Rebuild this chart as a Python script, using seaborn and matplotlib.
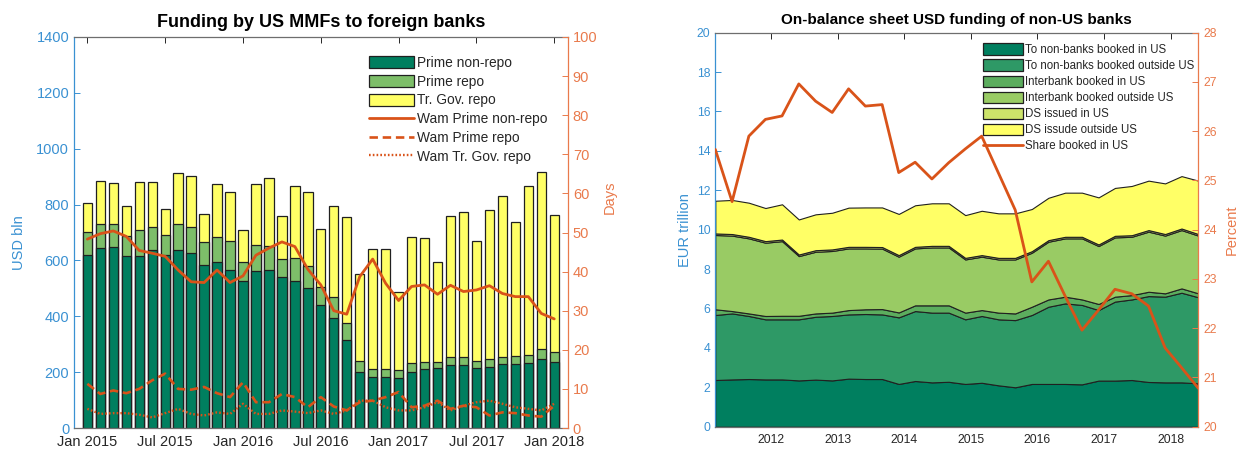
import numpy as np
import pandas as pd
import matplotlib
matplotlib.use("Agg")
import matplotlib.pyplot as plt
import matplotlib.dates as mdates
from matplotlib.patches import Patch
from matplotlib.lines import Line2D
import seaborn as sns

# ---------------- data: US MMF funding to foreign banks (USD bln, monthly) ----------------
month_labels = ["Jan 2015", "Jul 2015", "Jan 2016", "Jul 2016",
                "Jan 2017", "Jul 2017", "Jan 2018"]
prime_nonrepo = [618, 643, 647, 615, 615, 636, 618, 636, 628, 582, 593, 567, 525,
                 562, 567, 541, 525, 501, 442, 393, 315, 201, 184, 184, 180, 201,
                 211, 216, 224, 224, 216, 219, 229, 229, 234, 248, 236]
prime_repo = [83, 87, 83, 74, 94, 82, 73, 94, 93, 83, 91, 101, 68, 93, 86, 65, 85,
              78, 62, 75, 61, 40, 28, 28, 27, 33, 25, 20, 30, 30, 25, 27, 25, 29,
              28, 35, 37]
trgov_repo = [103, 155, 147, 106, 173, 164, 92, 184, 181, 103, 188, 177, 116, 218,
              241, 152, 256, 266, 209, 327, 378, 309, 428, 428, 281, 450, 444, 359,
              504, 521, 427, 534, 575, 480, 603, 635, 490]
# weighted average maturity (days)
wam_nonrepo = [48.3, 49.7, 50.4, 49.0, 45.4, 44.7, 43.9, 40.4, 37.4, 37.2, 40.4,
               37.2, 38.9, 44.2, 46.0, 47.6, 46.4, 40.6, 36.6, 30.0, 29.1, 38.7,
               43.2, 37.0, 32.6, 36.2, 36.6, 34.2, 36.5, 34.9, 35.3, 36.4, 34.4,
               33.6, 33.6, 29.3, 27.9]
wam_repo = [11.3, 8.7, 9.6, 8.9, 10.0, 12.2, 13.9, 10.0, 9.8, 10.5, 8.9, 7.9, 11.7,
            6.6, 6.6, 8.7, 7.9, 5.3, 7.9, 5.5, 4.5, 6.6, 7.0, 7.9, 9.2, 5.3, 5.7,
            7.0, 4.9, 5.7, 5.3, 3.2, 4.0, 3.8, 3.2, 2.9, 5.7]
wam_trgov = [4.9, 3.6, 3.8, 3.8, 3.4, 2.7, 3.8, 4.9, 3.6, 3.2, 4.0, 3.6, 6.2, 3.6,
             3.6, 4.5, 4.2, 3.8, 4.5, 3.6, 4.5, 7.0, 7.0, 5.3, 4.5, 4.5, 5.3, 6.6,
             4.5, 5.7, 6.6, 7.0, 6.2, 5.3, 4.9, 4.5, 6.2]

# ---------------- data: on-balance-sheet USD funding of non-US banks (EUR trn, quarterly) ----------------
quarters = pd.date_range("2011-03-01", periods=30, freq="3MS")
nonbanks_in_us = [2.37, 2.40, 2.42, 2.40, 2.40, 2.35, 2.39, 2.35, 2.44, 2.42, 2.42,
                  2.17, 2.32, 2.25, 2.28, 2.17, 2.23, 2.10, 2.00, 2.17, 2.17, 2.17,
                  2.15, 2.34, 2.34, 2.37, 2.27, 2.25, 2.25, 2.20]
nonbanks_outside_us = [3.30, 3.35, 3.20, 3.05, 3.05, 3.10, 3.19, 3.27, 3.26, 3.30,
                       3.28, 3.38, 3.55, 3.54, 3.51, 3.28, 3.39, 3.35, 3.41, 3.50,
                       3.92, 4.09, 4.03, 3.58, 4.01, 4.09, 4.36, 4.35, 4.55, 4.37]
interbank_in_us = [0.29, 0.12, 0.13, 0.17, 0.18, 0.18, 0.17, 0.17, 0.22, 0.24, 0.27,
                   0.25, 0.29, 0.37, 0.37, 0.34, 0.30, 0.34, 0.34, 0.42, 0.37, 0.34,
                   0.28, 0.31, 0.25, 0.22, 0.22, 0.17, 0.22, 0.20]
interbank_outside_us = [3.77, 3.83, 3.81, 3.72, 3.79, 3.03, 3.13, 3.13, 3.13, 3.09,
                        3.07, 2.83, 2.89, 2.94, 2.94, 2.70, 2.71, 2.70, 2.74, 2.74,
                        2.93, 2.96, 3.10, 2.94, 3.01, 2.96, 3.05, 2.93, 2.96, 2.93]
ds_in_us = [0.08] * 30
ds_outside_us = [1.66, 1.73, 1.73, 1.68, 1.79, 1.78, 1.82, 1.86, 1.99, 2.00, 2.01,
                 2.09, 2.11, 2.16, 2.16, 2.17, 2.25, 2.26, 2.26, 2.14, 2.15, 2.24,
                 2.24, 2.39, 2.43, 2.50, 2.51, 2.57, 2.66, 2.71]
share_us = [25.63, 24.57, 25.90, 26.24, 26.31, 26.96, 26.61, 26.38, 26.86, 26.51,
            26.54, 25.16, 25.37, 25.03, 25.36, 25.64, 25.90, 25.15, 24.40, 22.94,
            23.36, 22.65, 21.96, 22.37, 22.79, 22.70, 22.45, 21.60, 21.20, 20.78]

stack_labels = ["To non-banks booked in US", "To non-banks booked outside US",
                "Interbank booked in US", "Interbank booked outside US",
                "DS issued in US", "DS issude outside US"]

# ---------------- style ----------------
sns.set_style("ticks")
plt.rcParams["font.family"] = ["Liberation Sans", "DejaVu Sans"]

BLUE = "#3A91D2"
ORANGE_AX = "#E97A4C"
ORANGE = "#D95319"
GREY = "#6E6E6E"
TXT = "#262626"
EDGE = "#202020"
DARK = "#007F5F"
MID = "#7DBE69"
YELLOW = "#FFFF66"
stack_colors = ["#007F5F", "#2E9966", "#5CAD5E", "#99CB64", "#CDE46A", "#FFFF66"]

fig = plt.figure(figsize=(12.39, 4.51), dpi=100)
W, H = 1239, 451


def style_axes(ax, ax2, ytick_size, xtick_size):
    for s in ("top", "bottom"):
        ax.spines[s].set_color(GREY)
        ax.spines[s].set_linewidth(0.9)
        ax2.spines[s].set_visible(False)
    ax.spines["left"].set_color(BLUE)
    ax.spines["left"].set_linewidth(0.9)
    ax.spines["right"].set_visible(False)
    ax2.spines["left"].set_visible(False)
    ax2.spines["right"].set_color(ORANGE_AX)
    ax2.spines["right"].set_linewidth(0.9)
    ax.tick_params(axis="x", direction="in", top=True, bottom=True, length=4,
                   width=0.7, color=TXT, labelcolor=TXT, labelsize=xtick_size, pad=5)
    ax.tick_params(axis="y", direction="in", left=True, right=False, length=4,
                   width=0.7, color=BLUE, labelcolor=BLUE, labelsize=ytick_size)
    ax2.tick_params(axis="y", direction="in", right=True, left=False, length=4,
                    width=0.7, color=ORANGE_AX, labelcolor=ORANGE_AX,
                    labelsize=ytick_size)


# ================= left panel: stacked monthly bars + WAM lines =================
axL = fig.add_axes([74 / W, 1 - 428 / H, 494 / W, 391 / H])
month_index = np.arange(len(prime_nonrepo))
with_repo = np.add(prime_nonrepo, prime_repo)
total = np.add(with_repo, trgov_repo)

bar_kw = dict(native_scale=True, width=0.72, edgecolor=EDGE, linewidth=0.9,
              errorbar=None, saturation=1, ax=axL)
sns.barplot(x=month_index, y=total, color=YELLOW, **bar_kw)
sns.barplot(x=month_index, y=with_repo, color=MID, **bar_kw)
sns.barplot(x=month_index, y=prime_nonrepo, color=DARK, **bar_kw)

axL.set_xlim(-1.03, len(month_index) - 1 + 1.06)
axL.set_ylim(0, 1400)
axL.set_yticks(np.arange(0, 1401, 200))
axL.set_xticks(month_index[::6])
axL.set_xticklabels(month_labels)
axL.set_xlabel("")
axL.set_ylabel("USD bln", color=BLUE, fontsize=10.5)
axL.yaxis.set_label_coords(-0.097, 0.475)

axL2 = axL.twinx()
dash_style = (0, (3.2, 1.8))
dot_style = (0, (0.7, 0.9))
sns.lineplot(x=month_index, y=wam_nonrepo, ax=axL2, color=ORANGE, linewidth=2.0)
sns.lineplot(x=month_index, y=wam_repo, ax=axL2, color=ORANGE, linewidth=1.9,
             linestyle=dash_style)
sns.lineplot(x=month_index, y=wam_trgov, ax=axL2, color=ORANGE, linewidth=1.7,
             linestyle=dot_style)
axL2.set_ylim(0, 100)
axL2.set_yticks(np.arange(0, 101, 10))
axL2.set_ylabel("Days", color=ORANGE_AX, fontsize=10.5)
axL2.yaxis.set_label_coords(1.071, 0.59)
style_axes(axL, axL2, 10.5, 10.5)
axL.set_title("Funding by US MMFs to foreign banks", fontsize=13, fontweight="bold",
              color="black", pad=7)

left_handles = [
    Patch(facecolor=DARK, edgecolor=EDGE, linewidth=0.9, label="Prime non-repo"),
    Patch(facecolor=MID, edgecolor=EDGE, linewidth=0.9, label="Prime repo"),
    Patch(facecolor=YELLOW, edgecolor=EDGE, linewidth=0.9, label="Tr. Gov. repo"),
    Line2D([], [], color=ORANGE, linewidth=2.0, label="Wam Prime non-repo"),
    Line2D([], [], color=ORANGE, linewidth=1.9, linestyle=dash_style,
           label="Wam Prime repo"),
    Line2D([], [], color=ORANGE, linewidth=1.7, linestyle=dot_style,
           label="Wam Tr. Gov. repo"),
]
axL2.legend(handles=left_handles, loc="upper left", bbox_to_anchor=(0.597, 0.952),
            frameon=False, fontsize=9.9, handlelength=3.27, handleheight=1.0,
            handletextpad=0.22, labelspacing=0.35, borderpad=0, borderaxespad=0,
            labelcolor=TXT)

# ================= right panel: stacked areas + share line =================
axR = fig.add_axes([715.3 / W, 1 - 426.7 / H, 483 / W, 394 / H])
x_q = quarters.to_numpy()
axR.stackplot(x_q, nonbanks_in_us, nonbanks_outside_us, interbank_in_us,
              interbank_outside_us, ds_in_us, ds_outside_us,
              colors=stack_colors, edgecolor=EDGE, linewidth=0.8)
axR.set_ylim(0, 20)
axR.set_yticks(np.arange(0, 21, 2))
axR.set_ylabel("EUR trillion", color=BLUE, fontsize=10.5)
axR.yaxis.set_label_coords(-0.049, 0.5)

axR2 = axR.twinx()
sns.lineplot(x=x_q, y=share_us, ax=axR2, color=ORANGE, linewidth=2.0)
axR2.set_ylim(20, 28)
axR2.set_yticks(np.arange(20, 29, 1))
axR2.set_ylabel("Percent", color=ORANGE_AX, fontsize=10.5)
axR2.yaxis.set_label_coords(1.055, 0.5)
axR.set_xlim(x_q[0], x_q[-1])
axR.xaxis.set_major_locator(mdates.YearLocator())
axR.xaxis.set_major_formatter(mdates.DateFormatter("%Y"))
axR.set_xlabel("")
style_axes(axR, axR2, 8.8, 8.8)
axR.set_title("On-balance sheet USD funding of non-US banks", fontsize=11,
              fontweight="bold", color="black", pad=6)

right_handles = [Patch(facecolor=c, edgecolor=EDGE, linewidth=0.9, label=l)
                 for c, l in zip(stack_colors, stack_labels)]
right_handles.append(Line2D([], [], color=ORANGE, linewidth=2.0,
                            label="Share booked in US"))
axR2.legend(handles=right_handles, loc="upper left", bbox_to_anchor=(0.555, 0.973),
            frameon=False, fontsize=8.3, handlelength=3.4, handleheight=1.15,
            handletextpad=0.25, labelspacing=0.3, borderpad=0, borderaxespad=0,
            labelcolor=TXT)

fig.savefig("out.png", dpi=100)
